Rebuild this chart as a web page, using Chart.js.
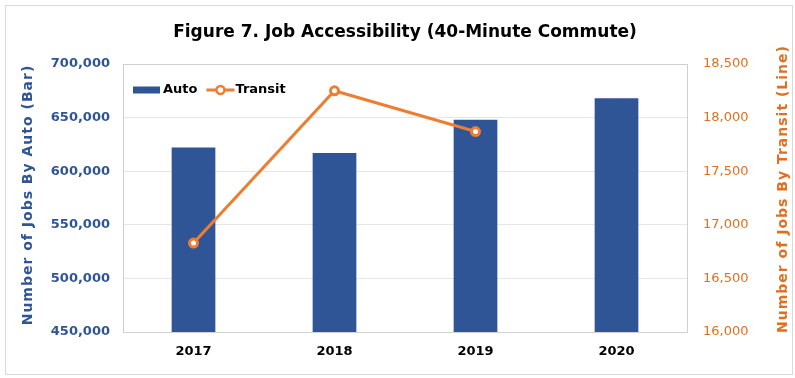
<!DOCTYPE html>
<html>
<head>
<meta charset="utf-8">
<script src="https://cdn.jsdelivr.net/npm/chart.js@4.4.1/dist/chart.umd.min.js"></script>
<style>
  html, body { margin: 0; padding: 0; background: #ffffff; }
  #wrap { width: 795px; height: 378px; position: relative; }
</style>
</head>
<body>
<div id="wrap"><canvas id="grafico" width="795" height="378"></canvas></div>
<script>
  // Datos
  const years = ["2017", "2018", "2019", "2020"];
  const autoJobs = [622000, 617000, 648000, 668000];
  const transitJobs = [16830, 18250, 17870, null];

  const autoTicks = [450000, 500000, 550000, 600000, 650000, 700000];
  const transitTicks = [16000, 16500, 17000, 17500, 18000, 18500];

  const titulo = "Figure 7. Job Accessibility (40-Minute Commute)";
  const tituloAuto = "Number of Jobs By Auto (Bar)";
  const tituloTransit = "Number of Jobs By Transit (Line)";

  const azul = "#2F5597";
  const naranja = "#ED7D31";
  const naranjaTexto = "#E0701F";
  const fuente = "'DejaVu Sans', Verdana, sans-serif";

  const fmt = (v) => Number(v).toLocaleString("en-US");

  // Marco exterior y borde del area de trazado
  const marcos = {
    id: "marcos",
    beforeDraw(chart) {
      const ctx = chart.ctx;
      ctx.save();
      ctx.fillStyle = "#ffffff";
      ctx.fillRect(0, 0, chart.width, chart.height);
      ctx.strokeStyle = "#d9d9d9";
      ctx.lineWidth = 1;
      ctx.strokeRect(5.5, 5.5, 787, 369);
      ctx.restore();
    },
    beforeDatasetsDraw(chart) {
      const a = chart.chartArea;
      const ctx = chart.ctx;
      ctx.save();
      ctx.strokeStyle = "#d0d0d0";
      ctx.lineWidth = 1;
      ctx.strokeRect(Math.round(a.left) + 0.5, Math.round(a.top) + 0.5,
        Math.round(a.right - a.left), Math.round(a.bottom - a.top));
      ctx.restore();
    },
  };

  // Titulo principal y titulos de ejes (ambos leidos de abajo hacia arriba)
  const textos = {
    id: "textos",
    afterDraw(chart) {
      const ctx = chart.ctx;
      const a = chart.chartArea;
      ctx.save();
      ctx.textAlign = "center";
      ctx.textBaseline = "middle";
      ctx.fillStyle = "#000000";
      ctx.font = "bold 17px " + fuente;
      ctx.fillText(titulo, 405, 33);

      ctx.font = "bold 14px " + fuente;
      ctx.letterSpacing = "1px";
      const cy = (a.top + a.bottom) / 2;

      ctx.save();
      ctx.translate(28, cy - 3);
      ctx.rotate(-Math.PI / 2);
      ctx.fillStyle = azul;
      ctx.fillText(tituloAuto, 0, 0);
      ctx.restore();

      ctx.save();
      ctx.translate(783, cy - 9);
      ctx.rotate(-Math.PI / 2);
      ctx.fillStyle = naranjaTexto;
      ctx.fillText(tituloTransit, 0, 0);
      ctx.restore();

      ctx.restore();
    },
  };

  // Leyenda dentro del area de trazado (arriba a la izquierda)
  const leyenda = {
    id: "leyenda",
    afterDraw(chart) {
      const a = chart.chartArea;
      const ctx = chart.ctx;
      const y = a.top + 26;
      let x = a.left + 10;
      ctx.save();
      ctx.font = "bold 13px " + fuente;
      ctx.textBaseline = "middle";
      ctx.fillStyle = azul;
      ctx.fillRect(x, y - 3.5, 27, 7);
      x += 30;
      ctx.fillStyle = "#000000";
      ctx.fillText("Auto", x, y);
      x += ctx.measureText("Auto").width + 9;
      ctx.strokeStyle = naranja;
      ctx.lineWidth = 3;
      ctx.beginPath();
      ctx.moveTo(x, y);
      ctx.lineTo(x + 28, y);
      ctx.stroke();
      ctx.beginPath();
      ctx.arc(x + 14, y, 4, 0, Math.PI * 2);
      ctx.fillStyle = "#ffffff";
      ctx.fill();
      ctx.lineWidth = 2.5;
      ctx.stroke();
      ctx.fillStyle = "#000000";
      ctx.fillText("Transit", x + 29, y);
      ctx.restore();
    },
  };

  new Chart(document.getElementById("grafico").getContext("2d"), {
    data: {
      labels: years,
      datasets: [
        {
          type: "line",
          label: "Transit",
          data: transitJobs,
          yAxisID: "y1",
          borderColor: naranja,
          borderWidth: 3,
          pointRadius: 4,
          pointBorderWidth: 3,
          pointBackgroundColor: "#ffffff",
          pointBorderColor: naranja,
          tension: 0,
          spanGaps: false,
          order: 0,
        },
        {
          type: "bar",
          label: "Auto",
          data: autoJobs,
          yAxisID: "y",
          backgroundColor: azul,
          borderWidth: 0,
          categoryPercentage: 1,
          barPercentage: 0.31,
          order: 1,
        },
      ],
    },
    options: {
      responsive: false,
      animation: false,
      layout: { padding: { top: 64, left: 0, right: 0, bottom: 0 } },
      plugins: {
        legend: { display: false },
        tooltip: { enabled: false },
        title: { display: false },
      },
      scales: {
        x: {
          grid: { display: false, drawTicks: false },
          border: { display: false },
          ticks: {
            color: "#000000",
            font: { family: fuente, size: 13, weight: "bold" },
            padding: 12,
          },
          afterFit: (s) => { s.height = 46; },
        },
        y: {
          position: "left",
          min: autoTicks[0],
          max: autoTicks[autoTicks.length - 1],
          afterBuildTicks: (s) => { s.ticks = autoTicks.map((v) => ({ value: v })); },
          grid: { color: "#e6e6e6", drawTicks: false },
          border: { display: false },
          ticks: {
            color: azul,
            font: { family: fuente, size: 13, weight: "bold" },
            padding: 13,
            callback: (v) => fmt(v),
          },
          afterFit: (s) => { s.width = 123; },
        },
        y1: {
          position: "right",
          min: transitTicks[0],
          max: transitTicks[transitTicks.length - 1],
          afterBuildTicks: (s) => { s.ticks = transitTicks.map((v) => ({ value: v })); },
          grid: { display: false, drawTicks: false },
          border: { display: false },
          ticks: {
            color: naranjaTexto,
            font: { family: fuente, size: 13 },
            padding: 16,
            callback: (v) => fmt(v),
          },
          afterFit: (s) => { s.width = 108; },
        },
      },
    },
    plugins: [marcos, textos, leyenda],
  });
</script>
</body>
</html>
